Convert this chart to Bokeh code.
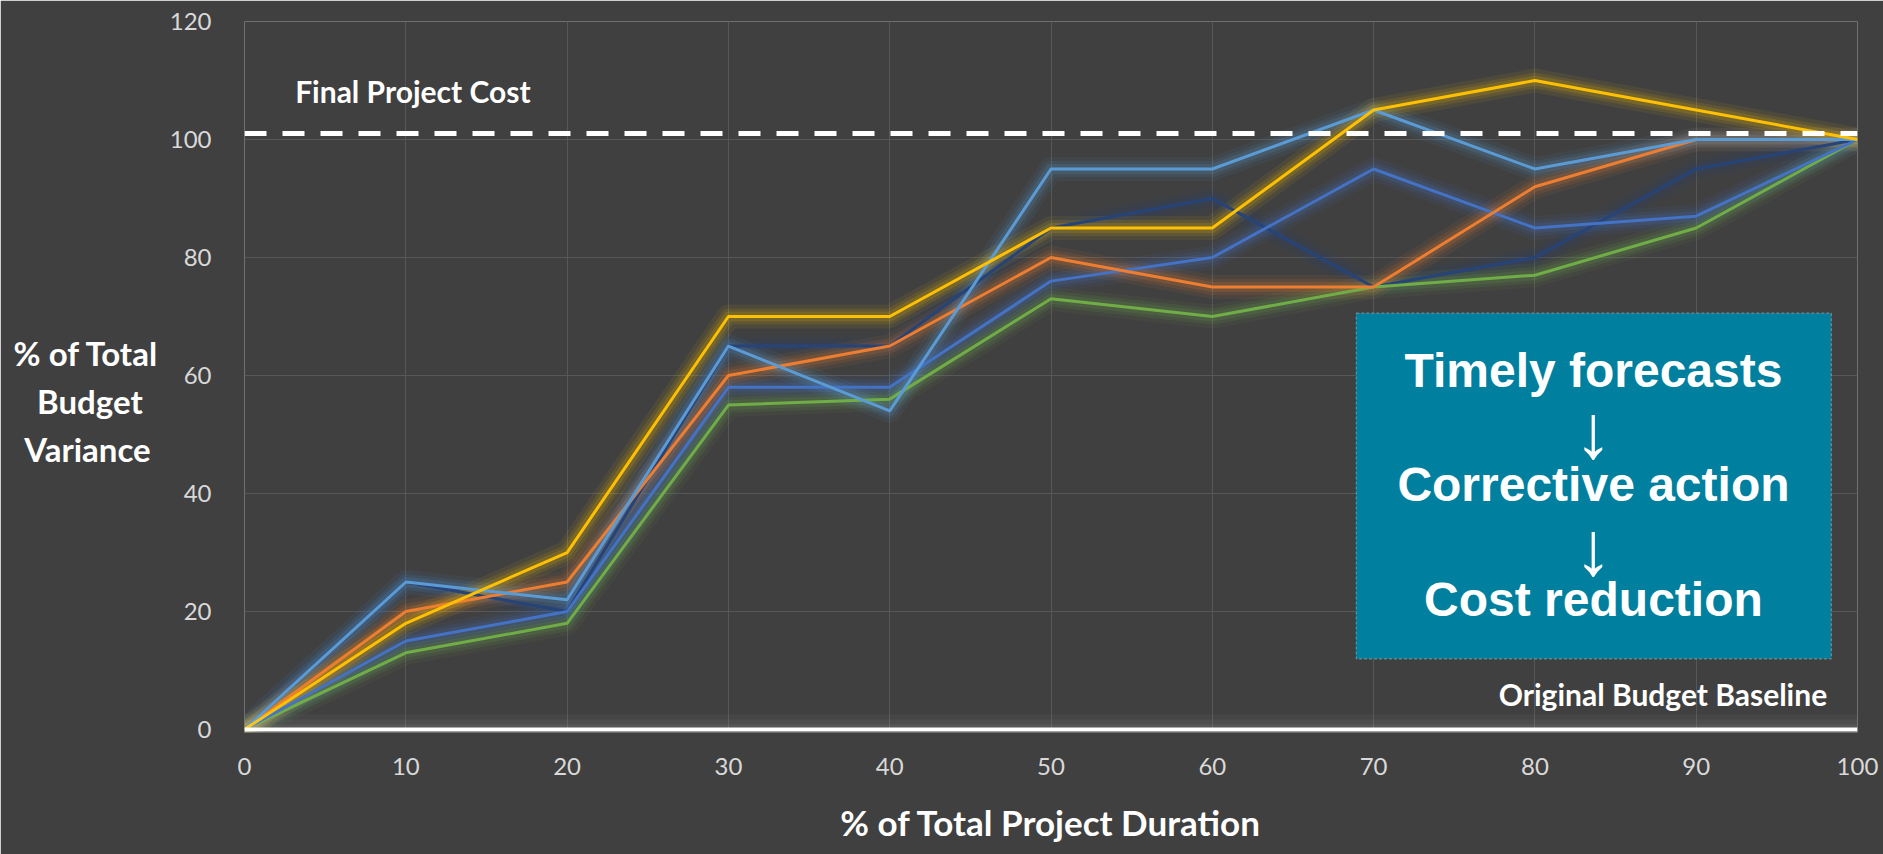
from bokeh.plotting import figure
from bokeh.models import FixedTicker, BoxAnnotation, Label, Range1d, Span
from bokeh.embed import file_html
from bokeh.resources import INLINE

# ---------------- data ----------------
duration = [0, 10, 20, 30, 40, 50, 60, 70, 80, 90, 100]
yellow = [0, 18, 30, 70, 70, 85, 85, 105, 110, 105, 100]
orange = [0, 20, 25, 60, 65, 80, 75, 75, 92, 100, 100]
light_blue = [0, 25, 22, 65, 54, 95, 95, 105, 95, 100, 100]
mid_blue = [0, 15, 20, 58, 58, 76, 80, 95, 85, 87, 100]
dark_blue = [0, 25, 20, 65, 65, 85, 90, 75, 80, 95, 100]
green = [0, 13, 18, 55, 56, 73, 70, 75, 77, 85, 100]

final_cost_level = 101
baseline_level = 0
x_ticks = [0, 10, 20, 30, 40, 50, 60, 70, 80, 90, 100]
y_ticks = [0, 20, 40, 60, 80, 100, 120]

series = [
    (dark_blue, "#264478"),
    (green, "#70AD47"),
    (mid_blue, "#4472C4"),
    (orange, "#ED7D31"),
    (light_blue, "#5B9BD5"),
    (yellow, "#FFC000"),
]

BG = "#404040"
NB = "\u00a0"

p = figure(frame_width=1613, frame_height=711,
           x_range=Range1d(0, 100), y_range=Range1d(-0.5, 120),
           output_backend="svg", toolbar_location=None,
           min_border_left=244, min_border_right=26,
           min_border_top=21, min_border_bottom=122)
p.background_fill_color = BG
p.border_fill_color = BG
p.outline_line_color = None

p.xaxis.ticker = FixedTicker(ticks=x_ticks)
p.yaxis.ticker = FixedTicker(ticks=y_ticks)
p.xgrid.ticker = FixedTicker(ticks=x_ticks)
p.ygrid.ticker = FixedTicker(ticks=y_ticks)
for g in (p.xgrid, p.ygrid):
    g.grid_line_color = "#575757"
    g.grid_line_width = 1

for ax in (p.xaxis, p.yaxis):
    ax.axis_line_color = None
    ax.major_tick_line_color = None
    ax.minor_tick_line_color = None
    ax.major_label_text_font = "Lato"
    ax.major_label_text_font_size = "24px"
    ax.major_label_text_color = "#D9D9D9"
    ax.axis_label_text_font = "Lato"
    ax.axis_label_text_font_style = "bold"
    ax.axis_label_text_color = "white"
p.xaxis.major_label_standoff = 19
p.yaxis.major_label_standoff = 27

# axis titles
p.xaxis.axis_label = "% of Total Project Duration"
p.xaxis.axis_label_text_font_size = "35px"
p.xaxis.axis_label_standoff = 23
p.yaxis.axis_label = (NB + "\n% of Total\nBudget" + NB * 2 + "\nVariance" + NB)
p.yaxis.axis_label_text_font_size = "33px"
p.yaxis.axis_label_orientation = "horizontal"
p.yaxis.axis_label_standoff = 8

# baseline glow + line
for h, a in [(2.6, 0.03), (1.7, 0.04), (0.9, 0.05)]:
    p.add_layout(BoxAnnotation(bottom=baseline_level, top=baseline_level + h,
                               fill_color="white", fill_alpha=a, line_color=None))
p.add_layout(Span(location=baseline_level, dimension="width",
                  line_color="white", line_width=4))

# series glows, then lines
for vals, c in series:
    for w, a in [(24, 0.07), (16, 0.11), (10, 0.15)]:
        p.line(duration, vals, line_color=c, line_width=w, line_alpha=a,
               line_join="round", line_cap="round")
for vals, c in series:
    p.line(duration, vals, line_color=c, line_width=3, line_join="round")

# final project cost dashed line
p.add_layout(Span(location=final_cost_level, dimension="width",
                  line_color="white", line_width=5, line_dash="22 16"))

LBL = dict(text_font="Lato", text_font_style="bold", text_color="white",
           text_baseline="alphabetic")
p.add_layout(Label(x=3.14, y=108.2, text="Final Project Cost",
                   text_font_size="30px", **LBL))
p.add_layout(Label(x=98.12, y=6.05, text="Original Budget Baseline",
                   text_font_size="30px", text_align="right", **LBL))

# callout box
p.add_layout(BoxAnnotation(left=68.93, right=98.38, bottom=11.99, top=70.56,
                           fill_color="#00809E", fill_alpha=1,
                           line_color="white", line_width=1.2, line_dash="3 2"))
cx = 83.63
for txt, yy in [("Timely forecasts", 60.8), ("Corrective action", 41.5),
                ("Cost reduction", 22.0)]:
    p.add_layout(Label(x=cx, y=yy, text=txt, text_font="Liberation Sans",
                       text_font_style="bold", text_font_size="48px",
                       text_color="white", text_align="center",
                       text_baseline="alphabetic"))
for yy in [50.5, 30.7]:
    p.add_layout(Label(x=cx, y=yy, text="\u2193", text_font="Liberation Sans",
                       text_font_size="76px", text_color="white",
                       text_align="center", text_baseline="alphabetic"))

open("out.html", "w").write(file_html(p, INLINE))
